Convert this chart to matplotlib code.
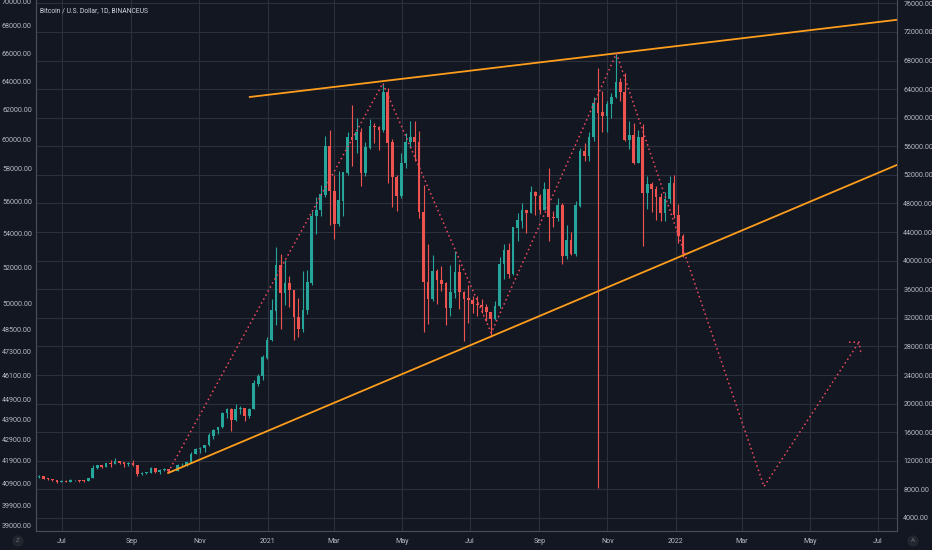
import matplotlib
matplotlib.use("Agg")
import matplotlib.pyplot as plt
import matplotlib.dates as mdates
import numpy as np
import pandas as pd

plt.rcParams['font.family'] = ['Roboto', 'DejaVu Sans']

# 4-day candles (BINANCEUS BTC/USD)
first_day = '2020-06-09'
first_open = 9700
close_px = [9770, 9470, 9450, 9300, 9050, 9180, 9080, 9250, 9250, 9200,
            9170, 9600, 11000, 11350, 11200, 11650, 11550, 11900, 11750, 11500,
            11700, 11400, 10200, 10250, 10350, 10950, 10450, 10700, 10850, 10550,
            10600, 11400, 11400, 11750, 12950, 13650, 13800, 14150, 15500, 16300,
            16700, 18650, 19150, 17700, 19200, 19350, 18250, 19250, 22800, 23800,
            26400, 28900, 33000, 39400, 35500, 36800, 35900, 32100, 30400, 33100,
            36900, 46200, 47100, 49200, 56000, 49700, 45200, 48400, 52300, 57200,
            56900, 58000, 52300, 55800, 58800, 58700, 58300, 63500, 56500, 51700,
            49000, 53600, 56600, 57300, 56600, 46800, 37000, 34700, 38500, 37300,
            36800, 33400, 35500, 38300, 35600, 34700, 34500, 33900, 33800, 33500,
            32800, 31800, 33600, 39500, 41500, 38200, 44600, 45600, 47000, 46700,
            49500, 49000, 47100, 50000, 46100, 46000, 47700, 40700, 42800, 41000,
            47700, 55300, 54700, 57300, 62000, 60700, 60300, 61900, 62900, 64900,
            63600, 56900, 57500, 53700, 57200, 49400, 50600, 50000, 48900, 46700,
            48600, 50800, 46400, 43400, 41000]
high_px = [9950, 9800, 9600, 9500, 9350, 9250, 9250, 9400, 9330, 9300,
           9250, 9650, 11350, 11450, 11450, 11750, 12100, 12450, 11950, 11700,
           11800, 12050, 11450, 10450, 10500, 11100, 11000, 10800, 10950, 10900,
           10750, 11500, 11700, 11800, 13200, 13800, 14000, 14250, 15900, 16400,
           16800, 18800, 19400, 19450, 19900, 19700, 19400, 19400, 23300, 24100,
           26800, 29300, 34700, 41900, 41000, 40100, 37800, 35900, 34800, 38500,
           38700, 46900, 48900, 50600, 57500, 58300, 52000, 52600, 52400, 58000,
           61800, 60000, 58500, 56600, 59800, 59300, 58900, 64850, 64100, 57000,
           52000, 55000, 57900, 59500, 59600, 58100, 50600, 42400, 40800, 38900,
           39300, 37000, 39400, 41300, 39500, 35800, 36600, 35000, 35100, 34600,
           33900, 32600, 34400, 40500, 42300, 42500, 44700, 46700, 48100, 47100,
           50500, 49700, 49300, 51000, 52900, 47000, 48800, 48000, 45000, 44000,
           48400, 55700, 56500, 58000, 62900, 67000, 63700, 62400, 63500, 69000,
           65600, 66300, 59500, 59300, 58300, 59100, 51900, 51000, 50400, 49500,
           49600, 51900, 52000, 47900, 43800]
low_px = [9600, 9400, 9300, 9200, 8950, 9000, 9000, 9050, 9150, 9100,
          9100, 9150, 9600, 10900, 10950, 11100, 11200, 11500, 11500, 11150,
          11300, 11300, 9900, 9950, 10200, 10350, 10350, 10200, 10600, 10400,
          10550, 10600, 11300, 11250, 11700, 12900, 13100, 13250, 14100, 15100,
          15800, 16600, 18000, 16200, 17600, 18600, 17600, 18000, 19200, 22400,
          23300, 26200, 28800, 31000, 30500, 33800, 33500, 28900, 29300, 30000,
          32500, 36600, 43700, 46300, 48900, 45000, 43000, 44900, 46300, 52000,
          53300, 55000, 50400, 51800, 55600, 56500, 55500, 58000, 50900, 47500,
          47000, 48800, 53000, 55800, 54000, 46000, 30000, 31100, 34300, 34000,
          35700, 31000, 32200, 34800, 33300, 28800, 31300, 32700, 32200, 32700,
          31600, 29300, 31700, 33400, 37500, 37600, 38000, 42800, 44600, 43900,
          46700, 46400, 46500, 47100, 42800, 44700, 45500, 39600, 40200, 40800,
          40700, 47500, 53900, 54000, 56800, 8200, 58000, 58000, 60000, 62800,
          62300, 56700, 55600, 53500, 53600, 42000, 47300, 46800, 45700, 45500,
          45600, 48000, 46000, 42500, 40500]

# drawings
upper_line_dates = ['2020-12-16', '2022-07-18']
upper_line_prices = [62900, 73700]
lower_line_dates = ['2020-10-04', '2022-07-18']
lower_line_prices = [10300, 53400]
path_dates = ['2020-10-04', '2021-04-14', '2021-07-20', '2021-11-09', '2022-03-21', '2022-06-14']
path_prices = [10400, 64800, 29900, 69000, 8400, 28600]
arrow_dates = ['2022-06-05', '2022-06-14', '2022-06-16']
arrow_prices = [28600, 28600, 26800]

right_ticks = list(range(4000, 76001, 4000))
left_labels = ['70000.00', '68000.00', '66000.00', '64000.00', '62000.00', '60000.00',
               '58000.00', '56000.00', '54000.00', '52000.00', '50000.00', '48500.00',
               '47300.00', '46100.00', '44900.00', '43900.00', '42900.00', '41900.00',
               '40900.00', '39900.00', '39000.00']
left_label_px = [2, 26, 53, 81, 109, 139, 169, 201, 233, 267, 303, 330, 352, 376,
                 400, 420, 440, 461, 483, 505, 526]
month_ticks = ['2020-07-01', '2020-09-01', '2020-11-01', '2021-01-01', '2021-03-01',
               '2021-05-01', '2021-07-01', '2021-09-01', '2021-11-01', '2022-01-01',
               '2022-03-01', '2022-05-01', '2022-07-01']
month_labels = ['Jul', 'Sep', 'Nov', '2021', 'Mar', 'May', 'Jul', 'Sep', 'Nov', '2022',
                'Mar', 'May', 'Jul']

bg = '#131722'
grid_c = '#2c303c'
text_c = '#b8bbc4'
up_c = '#26a69a'
down_c = '#ef5350'
lab_size = 5.1

fig = plt.figure(figsize=(9.32, 5.5), dpi=100, facecolor=bg)
ax = fig.add_axes([36 / 932, 19 / 550, 861 / 932, 531 / 550], facecolor=bg)
axl = ax.twinx()   # left-hand scale; twinx moves ax ticks, so set sides after
y_lo, y_hi = 2181, 76470
ax.set_ylim(y_lo, y_hi)
axl.set_ylim(y_lo, y_hi)
ax.set_xlim(pd.Timestamp('2020-06-07 18:00'), pd.Timestamp('2022-07-18'))

# candles
dates = pd.date_range(first_day, periods=len(close_px), freq='4D') + pd.Timedelta(days=1.5)
x = mdates.date2num(dates)
c = np.array(close_px, dtype=float)
o = np.concatenate([[first_open], c[:-1]])
h = np.array(high_px, dtype=float)
l = np.array(low_px, dtype=float)
cols = np.where(c >= o, up_c, down_c)
ax.vlines(x, l, h, colors=cols, linewidth=0.8, zorder=3)
ax.bar(x, np.abs(c - o) + 60, bottom=np.minimum(o, c), width=2.4, color=cols,
       linewidth=0, zorder=4)

# trend lines and projected path
ax.plot(pd.to_datetime(upper_line_dates), upper_line_prices, color='#ff9d1c', lw=1.3, zorder=5)
ax.plot(pd.to_datetime(lower_line_dates), lower_line_prices, color='#ff9d1c', lw=1.3, zorder=5)
ax.plot(pd.to_datetime(path_dates), path_prices, color='#f0495f', lw=1.1,
        linestyle=(0, (1, 2)), zorder=6)
ax.plot(pd.to_datetime(arrow_dates), arrow_prices, color='#f0495f', lw=1.1,
        linestyle=(0, (1, 2)), zorder=6)

# grid and right-hand scale
ax.set_xticks(pd.to_datetime(month_ticks))
ax.set_xticklabels(month_labels)
ax.set_yticks(right_ticks)
ax.set_yticklabels(['%.2f' % v for v in right_ticks])
ax.yaxis.tick_right()
ax.grid(True, color=grid_c, lw=0.8, zorder=0)
ax.tick_params(axis='both', length=0, colors=text_c, labelsize=lab_size)
ax.tick_params(axis='y', pad=4.5, labelleft=False, labelright=True)
ax.tick_params(axis='x', pad=5)

ax.spines['top'].set_visible(False)
for side in ['left', 'right', 'bottom']:
    ax.spines[side].set_color('#4a4e59')
    ax.spines[side].set_linewidth(0.8)

# left-hand price scale
axl.yaxis.tick_left()
pos = [y_hi - p / 531 * (y_hi - y_lo) for p in left_label_px]
axl.set_yticks(pos)
axl.set_yticklabels(left_labels)
axl.tick_params(axis='y', length=0, colors=text_c, labelsize=lab_size, pad=3,
                labelleft=True, labelright=False)
for s in axl.spines.values():
    s.set_visible(False)

fig.text(40 / 932, 1 - 11 / 550, 'Bitcoin / U.S. Dollar, 1D, BINANCEUS', color='#d1d4dc',
         fontsize=4.9, va='center', ha='left')
fig.text(18 / 932, 1 - 541 / 550, 'Z', color='#6a6d78', fontsize=4.5, ha='center', va='center',
         bbox=dict(boxstyle='circle,pad=0.5', fc='#22262f', ec='none'))
fig.text(913 / 932, 1 - 541 / 550, 'A', color='#6a6d78', fontsize=4.5, ha='center', va='center',
         bbox=dict(boxstyle='circle,pad=0.5', fc='#22262f', ec='none'))

fig.savefig('out.png', dpi=100, facecolor=bg)
